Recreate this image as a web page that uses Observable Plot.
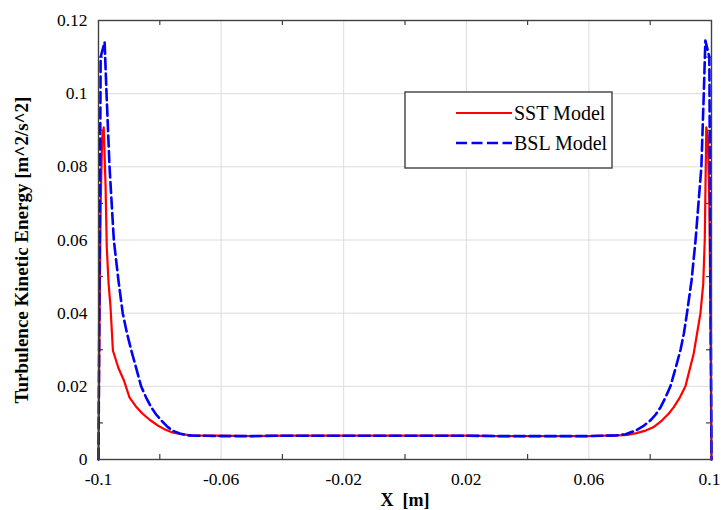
<!DOCTYPE html>
<html>
<head>
<meta charset="utf-8">
<script src="https://cdn.jsdelivr.net/npm/d3@7"></script>
<script src="https://cdn.jsdelivr.net/npm/@observablehq/plot@0.6"></script>
<style>
  html, body { margin: 0; padding: 0; background: #fff; }
  #chart { position: relative; width: 721px; height: 510px; }
</style>
</head>
<body>
<div id="chart"></div>
<script>
// ---- data ----
const seriesNames = ["SST Model", "BSL Model"];

const sstX = [-0.1, -0.0997, -0.0993, -0.0988, -0.0983, -0.0977, -0.0973, -0.0967, -0.0961, -0.0953, -0.0935, -0.0917, -0.0899, -0.0878, -0.0856, -0.0832, -0.0807, -0.0785, -0.0763, -0.0735, -0.0698, -0.065, -0.06, -0.05, -0.04, -0.03, -0.02, -0.01, 0, 0.01, 0.02, 0.03, 0.04, 0.05, 0.06, 0.065, 0.0695, 0.0725, 0.0755, 0.0785, 0.081, 0.0839, 0.086, 0.0877, 0.0897, 0.0915, 0.093, 0.0942, 0.0954, 0.0964, 0.0973, 0.0978, 0.0983, 0.0988, 0.0993, 0.0997, 0.1];
const sstY = [0, 0.035, 0.07, 0.088, 0.0908, 0.075, 0.058, 0.048, 0.042, 0.0298, 0.025, 0.0216, 0.017, 0.0145, 0.0125, 0.0108, 0.0093, 0.0083, 0.0075, 0.007, 0.0066, 0.0065, 0.0065, 0.0064, 0.0065, 0.0065, 0.0065, 0.0065, 0.0065, 0.0065, 0.0065, 0.0064, 0.0064, 0.0064, 0.0064, 0.0065, 0.0066, 0.0067, 0.0072, 0.0079, 0.0088, 0.0107, 0.0125, 0.0143, 0.017, 0.02, 0.025, 0.029, 0.035, 0.04, 0.048, 0.06, 0.0908, 0.088, 0.07, 0.035, 0];

const bslX = [-0.1, -0.0996, -0.0993, -0.098, -0.0974, -0.0964, -0.095, -0.0935, -0.0921, -0.0907, -0.0893, -0.0877, -0.0861, -0.0845, -0.0828, -0.0812, -0.0795, -0.0777, -0.0759, -0.0735, -0.071, -0.068, -0.065, -0.06, -0.05, -0.04, -0.03, -0.02, -0.01, 0, 0.01, 0.02, 0.03, 0.04, 0.05, 0.06, 0.065, 0.069, 0.072, 0.0752, 0.0777, 0.0801, 0.0818, 0.0834, 0.085, 0.0866, 0.0883, 0.0899, 0.091, 0.092, 0.0935, 0.0948, 0.0967, 0.0975, 0.098, 0.0993, 0.0996, 0.1];
const bslY = [0, 0.06, 0.11, 0.1141, 0.1004, 0.08, 0.06, 0.049, 0.04, 0.0345, 0.0298, 0.025, 0.02, 0.017, 0.0143, 0.0123, 0.0107, 0.0091, 0.0079, 0.0071, 0.0066, 0.0065, 0.0065, 0.0064, 0.0064, 0.0065, 0.0065, 0.0065, 0.0065, 0.0065, 0.0065, 0.0065, 0.0064, 0.0064, 0.0064, 0.0064, 0.0065, 0.0066, 0.0069, 0.0079, 0.0091, 0.0107, 0.0123, 0.0143, 0.017, 0.02, 0.025, 0.03, 0.0345, 0.04, 0.049, 0.06, 0.08, 0.1004, 0.1145, 0.11, 0.06, 0];

const xTicks = [-0.1, -0.06, -0.02, 0.02, 0.06, 0.1];
const xTickLabels = ["-0.1", "-0.06", "-0.02", "0.02", "0.06", "0.1"];
const xMinor = [-0.08, -0.04, 0, 0.04, 0.08];
const yTicks = [0, 0.02, 0.04, 0.06, 0.08, 0.1, 0.12];
const yTickLabels = ["0", "0.02", "0.04", "0.06", "0.08", "0.1", "0.12"];
const yMinor = [0.01, 0.03, 0.05, 0.07, 0.09, 0.11];
const xTitle = "X\u00a0\u00a0[m]";
const yTitle = "Turbulence Kinetic Energy [m^2/s^2]";

// ---- build tables ----
const sst = sstX.map((x, i) => ({x, y: sstY[i]}));
const bsl = bslX.map((x, i) => ({x, y: bslY[i]}));
const xLab = new Map(xTicks.map((t, i) => [t, xTickLabels[i]]));
const yLab = new Map(yTicks.map((t, i) => [t, yTickLabels[i]]));

const W = 721, H = 510, ML = 98, MR = 10, MT = 20, MB = 51;
const innerW = W - ML - MR, innerH = H - MT - MB;
const axisColor = "#404040";
const serif = "'Liberation Serif', 'Times New Roman', serif";

const plot = Plot.plot({
  width: W, height: H,
  marginLeft: ML, marginRight: MR, marginTop: MT, marginBottom: MB,
  x: {domain: [-0.1, 0.1]},
  y: {domain: [0, 0.12]},
  style: {fontFamily: serif, fontSize: "18px", color: "#000", background: "#fff", overflow: "visible"},
  marks: [
    Plot.gridX(xTicks, {stroke: "#dcdcdc", strokeOpacity: 1, strokeWidth: 1}),
    Plot.gridY(yTicks, {stroke: "#dcdcdc", strokeOpacity: 1, strokeWidth: 1}),
    Plot.tickX(xMinor, {x: d => d, insetTop: innerH - 5, stroke: axisColor, strokeWidth: 1.2}),
    Plot.tickX(xMinor, {x: d => d, insetBottom: innerH - 5, stroke: axisColor, strokeWidth: 1.2}),
    Plot.tickY(yMinor, {y: d => d, insetRight: innerW - 5, stroke: axisColor, strokeWidth: 1.2}),
    Plot.tickY(yMinor, {y: d => d, insetLeft: innerW - 5, stroke: axisColor, strokeWidth: 1.2}),
    Plot.line(sst, {x: "x", y: "y", stroke: "#ff0000", strokeWidth: 2.2}),
    Plot.line(bsl, {x: "x", y: "y", stroke: "#0000ff", strokeWidth: 2.6, strokeDasharray: "11,4.5"}),
    Plot.frame({stroke: axisColor, strokeWidth: 1.4}),
    Plot.axisX(xTicks.slice(0, -1), {tickSize: 0, tickPadding: 13, tickFormat: d => xLab.get(d), label: null, fontSize: 17.5}),
    Plot.axisX(xTicks.slice(-1), {tickSize: 0, tickPadding: 13, tickFormat: d => xLab.get(d), label: null, fontSize: 17.5, dx: -2}),
    Plot.axisY(yTicks, {tickSize: 0, tickPadding: 11, tickFormat: d => yLab.get(d), label: null, fontSize: 17.5}),
    Plot.text([xTitle], {text: d => d, frameAnchor: "bottom", dy: 41, lineAnchor: "middle", fontWeight: "bold", fontSize: 18}),
    Plot.text([yTitle], {text: d => d, frameAnchor: "left", dx: -77, dy: 10, rotate: -90, textAnchor: "middle", lineAnchor: "middle", fontWeight: "bold", fontSize: 19})
  ]
});

document.getElementById("chart").appendChild(plot);

// ---- legend box ----
const svg = d3.select(plot);
const lg = svg.append("g").attr("class", "legend");
lg.append("rect").attr("x", 405).attr("y", 92).attr("width", 207).attr("height", 76)
  .attr("fill", "#fff").attr("stroke", axisColor).attr("stroke-width", 1.4);
const legendItems = [
  {name: seriesNames[0], color: "#ff0000", dash: null, width: 2.2},
  {name: seriesNames[1], color: "#0000ff", dash: "11,4.5", width: 2.6}
];
legendItems.forEach((it, i) => {
  const y = 113 + i * 30;
  lg.append("line").attr("x1", 456).attr("x2", 512).attr("y1", y).attr("y2", y)
    .attr("stroke", it.color).attr("stroke-width", it.width)
    .attr("stroke-dasharray", it.dash);
  lg.append("text").attr("x", 514).attr("y", y).attr("dy", "0.35em")
    .attr("text-anchor", "start")
    .style("font-family", serif).style("font-size", "20px")
    .attr("fill", "#000").text(it.name);
});
</script>
</body>
</html>
